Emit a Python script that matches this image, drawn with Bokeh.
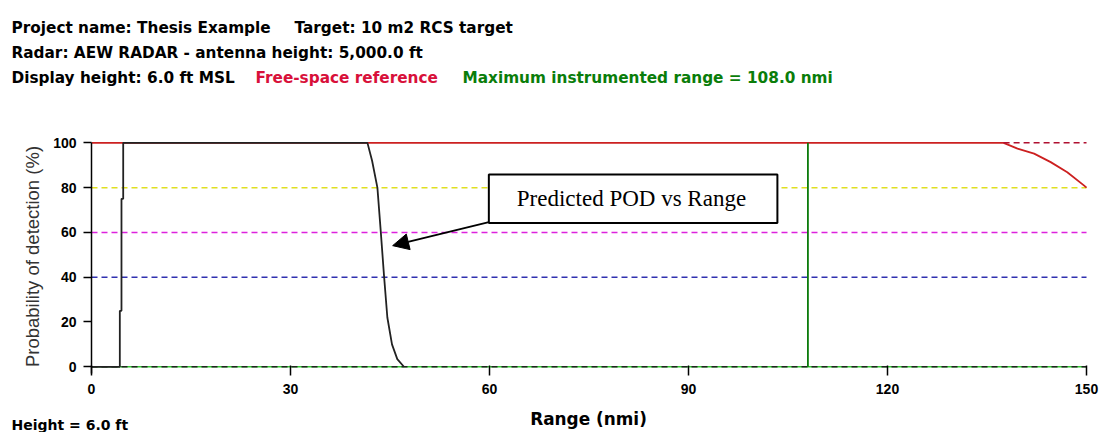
from bokeh.plotting import figure
from bokeh.layouts import column
from bokeh.models import Range1d, FixedTicker, Label, BoxAnnotation, Arrow, NormalHead
from bokeh.embed import file_html
from bokeh.resources import INLINE

# ---- data ----
pod_range = [0, 4.27, 4.27, 4.52, 4.52, 4.78, 4.78, 41.6, 42.3, 43.1, 43.6, 44.1, 44.6, 45.3, 46.1, 47.1]
pod_value = [0, 0, 25, 25, 75, 75, 100, 100, 92, 80, 60.7, 40.6, 22, 10, 3.4, 0]

fs_range = [0, 137.5, 139.6, 142.1, 144.6, 147.1, 149.6, 150]
fs_value = [100, 100, 97.4, 95.2, 91.4, 86.9, 81, 80]
fs_ref_range = [137.5, 150]
fs_ref_value = [100, 100]

max_range = 108.0
ref_levels = [80, 60, 40]
ref_colors = ["#e0e020", "#dd22dd", "#3030b0"]

x_ticks = [0, 30, 60, 90, 120, 150]
y_ticks = [0, 20, 40, 60, 80, 100]

header1a = "Project name: Thesis Example"
header1b = "Target: 10 m2 RCS target"
header2 = "Radar: AEW RADAR - antenna height: 5,000.0 ft"
header3a = "Display height: 6.0 ft MSL"
header3b = "Free-space reference"
header3c = "Maximum instrumented range = 108.0 nmi"
x_title = "Range (nmi)"
y_title = "Probability of detection (%)"
footer = "Height = 6.0 ft"
callout = "Predicted POD vs Range"

W = 1100
HDR_H = 90
MAIN_H = 309
FTR_H = 33
ARIAL = "Liberation Sans"
WIDE = "DejaVu Sans"


def blank(height):
    f = figure(width=W, height=height, output_backend="svg", toolbar_location=None,
               x_range=Range1d(0, W), y_range=Range1d(height, 0),
               x_axis_type=None, y_axis_type=None, min_border=0)
    f.outline_line_color = None
    f.grid.visible = False
    f.frame_align = False
    return f


# ---- header ----
hdr = blank(HDR_H)
for txt, x, y, col in [(header1a, 11, 27.5, "black"),
                       (header1b, 294, 27.5, "black"),
                       (header2, 11, 52.5, "black"),
                       (header3a, 11, 77.5, "black"),
                       (header3b, 255, 77.5, "#d8103a"),
                       (header3c, 462, 77.5, "#0a7d0a")]:
    hdr.add_layout(Label(x=x, y=y, text=txt, text_align="left", text_baseline="alphabetic",
                         text_font=WIDE, text_font_style="bold", text_font_size="15.3px",
                         text_color=col))

# ---- main chart ----
p = figure(width=W, height=MAIN_H, output_backend="svg", toolbar_location=None,
           x_range=Range1d(0, 150.6), y_range=Range1d(-3, 101.5),
           min_border_left=91, min_border_right=10, min_border_top=49, min_border_bottom=26)
p.outline_line_color = None
p.grid.visible = False
p.frame_align = False

p.xaxis.ticker = FixedTicker(ticks=x_ticks)
p.yaxis.ticker = FixedTicker(ticks=y_ticks)
for ax in (p.xaxis[0], p.yaxis[0]):
    ax.minor_tick_line_color = None
    ax.major_label_text_font = ARIAL
    ax.major_label_text_font_style = "bold"
    ax.major_label_text_font_size = "14px"
    ax.major_label_text_color = "black"
    ax.major_tick_line_color = "black"
    ax.major_tick_line_width = 1.5
p.xaxis.axis_line_color = None
p.xaxis.major_tick_in = 8
p.xaxis.major_tick_out = 2
p.xaxis.major_label_standoff = 8

p.yaxis.axis_line_color = "black"
p.yaxis.axis_line_width = 1.5
p.yaxis.bounds = (-3, 100)
p.yaxis.major_tick_in = 0
p.yaxis.major_tick_out = 8
p.yaxis.major_label_standoff = 7
p.yaxis.axis_label = y_title
p.yaxis.axis_label_text_font = ARIAL
p.yaxis.axis_label_text_font_style = "normal"
p.yaxis.axis_label_text_font_size = "18.5px"
p.yaxis.axis_label_text_color = "#333333"
p.yaxis.axis_label_standoff = 7

for lvl, col in zip(ref_levels, ref_colors):
    p.line([0, 150], [lvl, lvl], line_color=col, line_width=1.5, line_dash="6 4")
p.line([0, 150], [0, 0], line_color="#33cc33", line_width=1.5)
p.line([0, 150], [0, 0], line_color="#222222", line_width=1.5, line_dash="6 4")

p.line(fs_range, fs_value, line_color="#cc2020", line_width=1.8)
p.line(fs_ref_range, fs_ref_value, line_color="#b01030", line_width=1.5, line_dash="6 4")

p.line([max_range, max_range], [0, 100], line_color="#0a7a0a", line_width=1.8)

p.line(pod_range, pod_value, line_color="#222222", line_width=1.8)

p.add_layout(BoxAnnotation(left=59.9, right=103.4, bottom=64.2, top=85.9,
                           fill_color="white", fill_alpha=1.0,
                           line_color="black", line_alpha=1.0, line_width=2))
p.add_layout(Label(x=81.4, y=75.2, text=callout, text_align="center", text_baseline="middle",
                   text_font="Liberation Serif", text_font_size="23px", text_color="black"))
p.add_layout(Arrow(x_start=59.9, y_start=64.6, x_end=45.4, y_end=54.1, line_width=2,
                   line_color="black",
                   end=NormalHead(size=16, fill_color="black", line_color="black")))

# ---- footer (x-axis title and display height) ----
ftr = blank(FTR_H)
ftr.add_layout(Label(x=588, y=19, text=x_title, text_align="center", text_baseline="alphabetic",
                     text_font=WIDE, text_font_style="bold", text_font_size="16.9px",
                     text_color="black"))
ftr.add_layout(Label(x=11, y=25, text=footer, text_align="left", text_baseline="alphabetic",
                     text_font=WIDE, text_font_style="bold", text_font_size="14px",
                     text_color="black"))

layout = column(hdr, p, ftr, spacing=0)
open("out.html", "w").write(file_html(layout, INLINE))
